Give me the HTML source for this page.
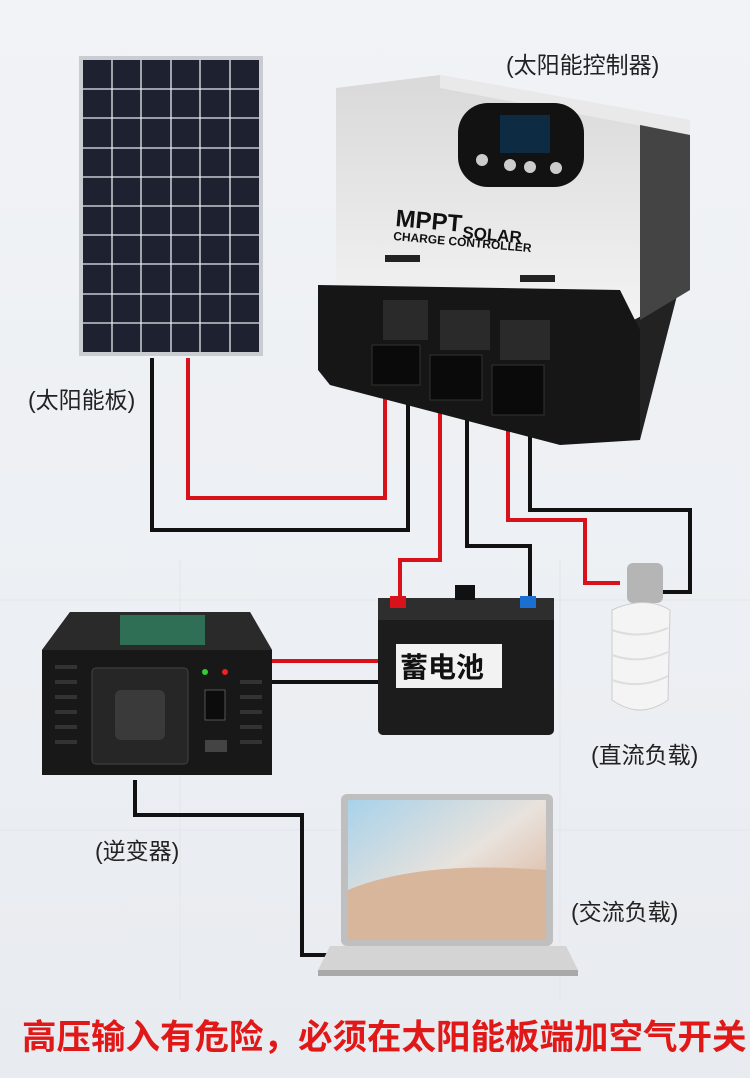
<!DOCTYPE html>
<html><head><meta charset="utf-8">
<style>
html,body{margin:0;padding:0}
body{width:750px;height:1078px;position:relative;overflow:hidden;
background:linear-gradient(180deg,#f1f3f6 0%,#eceff3 60%,#e8ebef 100%);
font-family:"Liberation Sans","Noto Sans CJK SC",sans-serif;}
.lbl{position:absolute;font-size:23px;color:#222;white-space:nowrap}
svg{position:absolute;left:0;top:0}
</style></head><body>
<svg width="750" height="1078" viewBox="0 0 750 1078">
<defs>
<linearGradient id="ctl" x1="0" y1="0" x2="0" y2="1"><stop offset="0" stop-color="#d9d9d9"/><stop offset="1" stop-color="#f4f4f4"/></linearGradient>
<linearGradient id="scr" x1="0" y1="0" x2="1" y2="1"><stop offset="0" stop-color="#a8d2ea"/><stop offset="0.5" stop-color="#e8e2dc"/><stop offset="1" stop-color="#d9a98a"/></linearGradient>
</defs>
<g stroke="#e2e5ea" stroke-width="1">
<line x1="0" y1="600" x2="750" y2="600"/><line x1="0" y1="830" x2="750" y2="830"/>
<line x1="180" y1="560" x2="180" y2="1000"/><line x1="560" y1="560" x2="560" y2="1000"/>
</g>
<rect x="79" y="56" width="184" height="300" fill="#c9ccd0"/>
<rect x="83" y="60" width="176" height="292" fill="#1d2130"/>
<g stroke="#e8eaee" stroke-width="1.3">
<line x1="112" y1="60" x2="112" y2="352"/><line x1="141" y1="60" x2="141" y2="352"/><line x1="171" y1="60" x2="171" y2="352"/><line x1="200" y1="60" x2="200" y2="352"/><line x1="230" y1="60" x2="230" y2="352"/>
<line x1="83" y1="89" x2="259" y2="89"/><line x1="83" y1="118" x2="259" y2="118"/><line x1="83" y1="148" x2="259" y2="148"/><line x1="83" y1="177" x2="259" y2="177"/><line x1="83" y1="206" x2="259" y2="206"/><line x1="83" y1="235" x2="259" y2="235"/><line x1="83" y1="264" x2="259" y2="264"/><line x1="83" y1="294" x2="259" y2="294"/><line x1="83" y1="323" x2="259" y2="323"/>
</g>
<polyline points="188,358 188,498 385,498 385,378" fill="none" stroke="#d8121a" stroke-width="4"/>
<polyline points="152,358 152,530 408,530 408,378" fill="none" stroke="#111" stroke-width="4"/>
<polyline points="440,378 440,560 400,560 400,600" fill="none" stroke="#d8121a" stroke-width="4"/>
<polyline points="467,378 467,546 530,546 530,600" fill="none" stroke="#111" stroke-width="4"/>
<polyline points="508,415 508,520 585,520 585,583 620,583" fill="none" stroke="#d8121a" stroke-width="4"/>
<polyline points="530,415 530,510 690,510 690,592 662,592" fill="none" stroke="#111" stroke-width="4"/>
<line x1="270" y1="661" x2="380" y2="661" stroke="#d8121a" stroke-width="4"/>
<line x1="270" y1="682" x2="380" y2="682" stroke="#111" stroke-width="4"/>
<polyline points="135,780 135,815 302,815 302,955 330,955" fill="none" stroke="#111" stroke-width="4"/>
<polygon points="610,205 690,220 690,245 640,440 590,440" fill="#222"/>
<polygon points="336,88 440,75 690,120 690,290 615,330 336,290" fill="url(#ctl)"/>
<polygon points="440,75 690,120 690,135 440,88" fill="#e9e9e9"/>
<polygon points="640,125 690,135 690,290 640,320" fill="#444"/>
<rect x="458" y="103" width="126" height="84" rx="30" fill="#121212"/>
<rect x="500" y="115" width="50" height="38" fill="#0d2c44"/>
<g fill="#ccc"><circle cx="482" cy="160" r="6"/><circle cx="510" cy="165" r="6"/><circle cx="530" cy="167" r="6"/><circle cx="556" cy="168" r="6"/></g>
<text x="395" y="226" font-size="24" font-weight="bold" fill="#111" font-family="Liberation Sans" transform="rotate(5 395 226)">MPPT</text>
<text x="462" y="238" font-size="17" font-weight="bold" fill="#111" font-family="Liberation Sans" transform="rotate(5 462 238)">SOLAR</text>
<text x="393" y="240" font-size="12" font-weight="bold" fill="#111" font-family="Liberation Sans" transform="rotate(5 393 240)">CHARGE CONTROLLER</text>
<rect x="385" y="255" width="35" height="7" fill="#222"/><rect x="520" y="275" width="35" height="7" fill="#222"/>
<polygon points="318,285 620,290 640,330 640,440 560,445 330,385 318,370" fill="#161616"/>
<rect x="383" y="300" width="45" height="40" fill="#2a2a2a"/><rect x="440" y="310" width="50" height="40" fill="#2a2a2a"/><rect x="500" y="320" width="50" height="40" fill="#2a2a2a"/>
<rect x="372" y="345" width="48" height="40" fill="#0a0a0a" stroke="#333"/>
<rect x="430" y="355" width="52" height="45" fill="#0a0a0a" stroke="#333"/>
<rect x="492" y="365" width="52" height="50" fill="#0a0a0a" stroke="#333"/>
<rect x="378" y="598" width="176" height="137" rx="5" fill="#1c1c1c"/>
<rect x="378" y="598" width="176" height="22" fill="#2e2e2e"/>
<rect x="390" y="596" width="16" height="12" fill="#d8121a"/><rect x="520" y="596" width="16" height="12" fill="#1b6fd0"/>
<rect x="455" y="585" width="20" height="15" fill="#111"/>
<rect x="396" y="644" width="106" height="44" fill="#f2f2f2"/>
<rect x="627" y="563" width="36" height="40" rx="6" fill="#b5b5b5"/>
<path d="M612 610 Q645 595 670 610 L668 700 Q640 720 612 700 Z" fill="#f4f4f4" stroke="#ccc"/>
<g stroke="#ddd" stroke-width="2" fill="none"><path d="M612 630 Q640 640 668 628"/><path d="M612 655 Q640 665 668 652"/><path d="M612 680 Q640 690 668 676"/></g>
<polygon points="42,650 70,612 250,612 272,650 272,775 42,775" fill="#181818"/>
<polygon points="70,612 250,612 272,650 42,650" fill="#2a2a2a"/>
<rect x="120" y="615" width="85" height="30" fill="#2e6f55"/>
<g fill="#333"><rect x="55" y="665" width="22" height="4"/><rect x="55" y="680" width="22" height="4"/><rect x="55" y="695" width="22" height="4"/><rect x="55" y="710" width="22" height="4"/><rect x="55" y="725" width="22" height="4"/><rect x="55" y="740" width="22" height="4"/><rect x="240" y="680" width="22" height="4"/><rect x="240" y="695" width="22" height="4"/><rect x="240" y="710" width="22" height="4"/><rect x="240" y="725" width="22" height="4"/><rect x="240" y="740" width="22" height="4"/></g>
<rect x="92" y="668" width="96" height="96" rx="4" fill="#262626" stroke="#444"/>
<rect x="115" y="690" width="50" height="50" rx="6" fill="#3a3a3a"/>
<rect x="205" y="690" width="20" height="30" fill="#0c0c0c" stroke="#555"/>
<rect x="205" y="740" width="22" height="12" fill="#444"/>
<circle cx="205" cy="672" r="3" fill="#3c3"/><circle cx="225" cy="672" r="3" fill="#e22"/>
<rect x="341" y="794" width="212" height="152" rx="6" fill="#bfbfbf"/>
<rect x="348" y="800" width="198" height="140" fill="url(#scr)"/>
<path d="M348 890 Q420 860 546 870 L546 940 L348 940 Z" fill="#d7b69c"/>
<polygon points="330,946 566,946 578,970 318,970" fill="#d4d4d4"/>
<rect x="318" y="970" width="260" height="6" fill="#a9a9a9"/>
</svg>
<div class="lbl" style="left:506px;top:46px">(太阳能控制器)</div>
<div class="lbl" style="left:28px;top:381px">(太阳能板)</div>
<div class="lbl" style="left:591px;top:736px">(直流负载)</div>
<div class="lbl" style="left:95px;top:832px">(逆变器)</div>
<div class="lbl" style="left:571px;top:893px">(交流负载)</div>
<div class="lbl" style="left:400px;top:646px;font-size:28px;font-weight:bold;color:#111">蓄电池</div>
<div class="lbl" style="left:22px;top:1009px;font-size:34.5px;font-weight:bold;color:#e01818">高压输入有危险，必须在太阳能板端加空气开关</div>
</body></html>
